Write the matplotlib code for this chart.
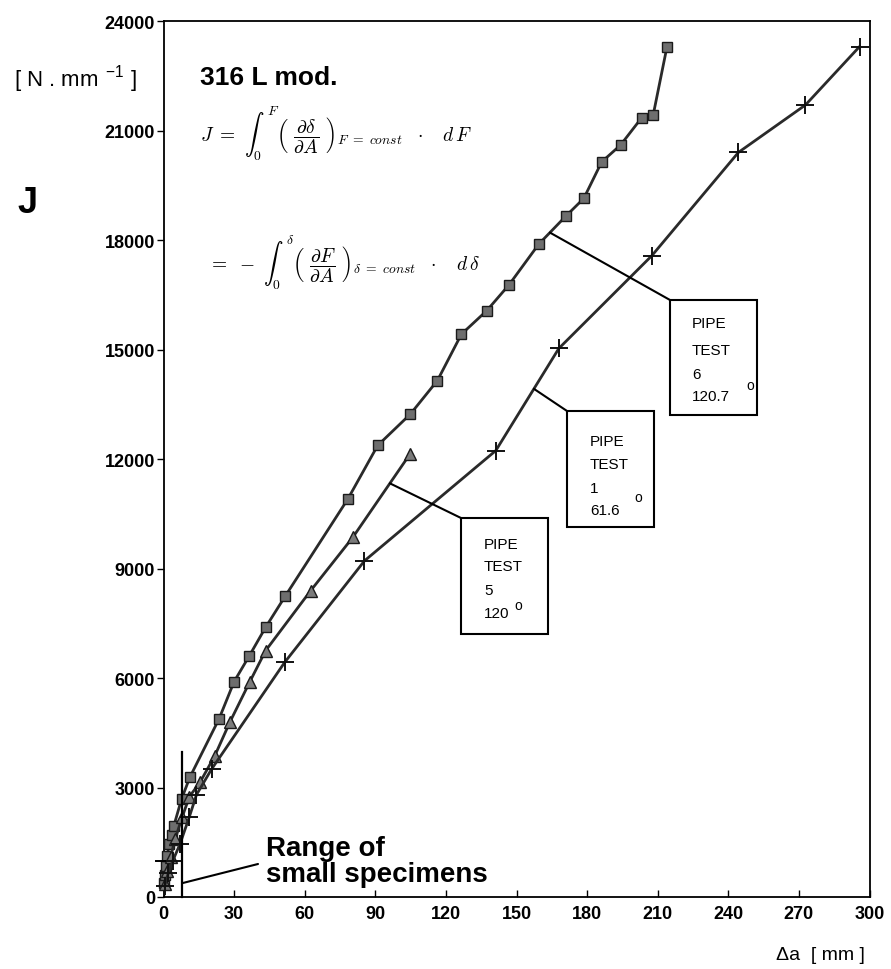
import numpy as np
import matplotlib
matplotlib.use("Agg")
import matplotlib.pyplot as plt
from matplotlib.patches import Rectangle

plt.rcParams["font.family"] = ["Liberation Sans", "DejaVu Sans"]
plt.rcParams["mathtext.fontset"] = "cm"

W, H = 891, 970

# J-R data, crack extension da [mm] vs J [N/mm]
test6_da = [0.2, 0.6, 1.0, 1.6, 2.4, 3.6, 4.4, 7.7, 11.2, 23.6, 30.0, 36.4, 43.4,
            51.8, 78.3, 91.0, 104.9, 116.4, 126.6, 137.3, 146.8, 159.5, 170.9,
            178.6, 186.2, 194.2, 203.2, 208.1, 213.9]
test6_J = [380, 600, 850, 1120, 1450, 1700, 1950, 2690, 3280, 4880, 5900, 6600, 7390,
           8250, 10900, 12370, 13230, 14150, 15420, 16060, 16770, 17890, 18650,
           19140, 20140, 20600, 21350, 21430, 23280]

test5_da = [0.5, 1.5, 3.0, 5.0, 8.0, 11.0, 15.5, 21.8, 28.2, 36.7, 43.4, 62.5, 80.4, 104.9]
test5_J = [350, 700, 1100, 1600, 2200, 2750, 3140, 3870, 4790, 5900, 6750, 8390, 9850, 12150]

test1_da = [0.5, 2.0, 4.0, 7.0, 11.0, 14.0, 20.4, 51.5, 85.4, 141.2, 168.0, 207.5,
            244.3, 272.8, 295.8]
test1_J = [300, 650, 1000, 1450, 2200, 2800, 3500, 6430, 9210, 12230, 15030, 17570,
           20400, 21700, 23300]

x_ticks = list(range(0, 301, 30))
y_ticks = list(range(0, 24001, 3000))

small_range_da = 8.0
small_range_top = 3960


def fig_xy(px, py):
    """pixel position (from top-left) -> figure fraction"""
    return px / W, 1 - py / H


fig = plt.figure(figsize=(W / 100, H / 100), dpi=100)
ax = fig.add_axes([163.5 / W, 1 - 898 / H, 706 / W, 876 / H])

line_kw = dict(color="#2a2a2a", lw=2.0, clip_on=False, zorder=3)
ax.plot(test6_da, test6_J, marker="s", ms=7.5, mfc="#6e6e6e", mec="#1a1a1a", mew=1.0, **line_kw)
ax.plot(test5_da, test5_J, marker="^", ms=8.5, mfc="#7a7a7a", mec="#1a1a1a", mew=1.0, **line_kw)
ax.plot(test1_da, test1_J, marker="+", ms=13, mec="#111111", mew=1.4, **line_kw)

ax.set_xlim(0, 300)
ax.set_ylim(0, 24000)
ax.set_xticks(x_ticks)
ax.set_yticks(y_ticks)
ax.tick_params(axis="x", direction="in", length=5, width=1, pad=6)
ax.tick_params(axis="y", direction="out", length=5, width=1, pad=1)
for lab in ax.get_xticklabels() + ax.get_yticklabels():
    lab.set_fontweight("bold")
    lab.set_fontsize(13)
for sp in ax.spines.values():
    sp.set_linewidth(1.3)

# range of small specimens
ax.plot([small_range_da, small_range_da], [0, small_range_top], color="black", lw=1.6,
        clip_on=False, zorder=4)
ax.plot([-3, 0.8], [1000, 1000], color="black", lw=1.4, clip_on=False, zorder=4)
ax.annotate("", xy=(small_range_da, 380), xytext=fig_xy(258, 865),
            textcoords="figure fraction",
            arrowprops=dict(arrowstyle="-", color="black", lw=1.5, shrinkA=0, shrinkB=0))
fig.text(*fig_xy(266, 856), "Range of", fontsize=20, fontweight="bold", va="baseline")
fig.text(*fig_xy(266, 882), "small specimens", fontsize=20, fontweight="bold", va="baseline")

# labelled boxes for the pipe tests
boxes = [
    # series, da on curve, box (left, top, right, bottom) px, text left, line ys, degree sign
    (test6_da, test6_J, 164.2, (670, 301, 757, 416), 692, ["PIPE", "TEST", "6", "120.7"],
     [324, 351, 375, 397], (746, 386)),
    (test1_da, test1_J, 157.4, (567, 412, 654, 528), 590, ["PIPE", "TEST", "1", "61.6"],
     [442, 465, 489, 511], (634, 498)),
    (test5_da, test5_J, 96.2, (461, 519, 548, 635), 484, ["PIPE", "TEST", "5", "120"],
     [545, 567, 591, 614], (514, 606)),
]
for sx, sy, da, (l, t, r, b), tx, lines, ys, deg in boxes:
    jv = np.interp(da, sx, sy)
    ax.annotate("", xy=(da, jv), xytext=fig_xy(l, t), textcoords="figure fraction",
                arrowprops=dict(arrowstyle="-", color="black", lw=1.5, shrinkA=0, shrinkB=0))
    x0, y0 = fig_xy(l, b)
    x1, y1 = fig_xy(r, t)
    fig.patches.append(Rectangle((x0, y0), x1 - x0, y1 - y0, transform=fig.transFigure,
                                 fill=True, fc="white", ec="black", lw=1.5, zorder=5))
    for s, yy in zip(lines, ys):
        fig.text(*fig_xy(tx, yy), s, fontsize=11, va="center", zorder=6)
    fig.text(*fig_xy(*deg), "o", fontsize=10, va="center", zorder=6)

# headings and axis labels
fig.text(*fig_xy(200, 85), "316 L mod.", fontsize=19, fontweight="bold", va="baseline")
fig.text(*fig_xy(14, 87), r"[ N . mm $^{\mathregular{-1}}$ ]", fontsize=16, va="baseline")
fig.text(*fig_xy(17, 213), "J", fontsize=26, fontweight="bold", va="baseline")
fig.text(*fig_xy(776, 960), "\u0394a  [ mm ]", fontsize=14, va="baseline")

fig.text(*fig_xy(200, 134),
         r"$J\ =\ \int_0^{\,F}\left(\ \dfrac{\partial\delta}{\partial A}\ \right)_{F\ =\ const}"
         r"\ \ \cdot\ \ \ d\,F$", fontsize=14, va="center")
fig.text(*fig_xy(208, 263),
         r"$=\ -\ \int_0^{\,\delta}\left(\ \dfrac{\partial F}{\partial A}\ \right)_{\delta\ =\ const}"
         r"\ \ \cdot\ \ \ d\,\delta$", fontsize=14, va="center")

fig.savefig("out.png", dpi=100, facecolor="white")
